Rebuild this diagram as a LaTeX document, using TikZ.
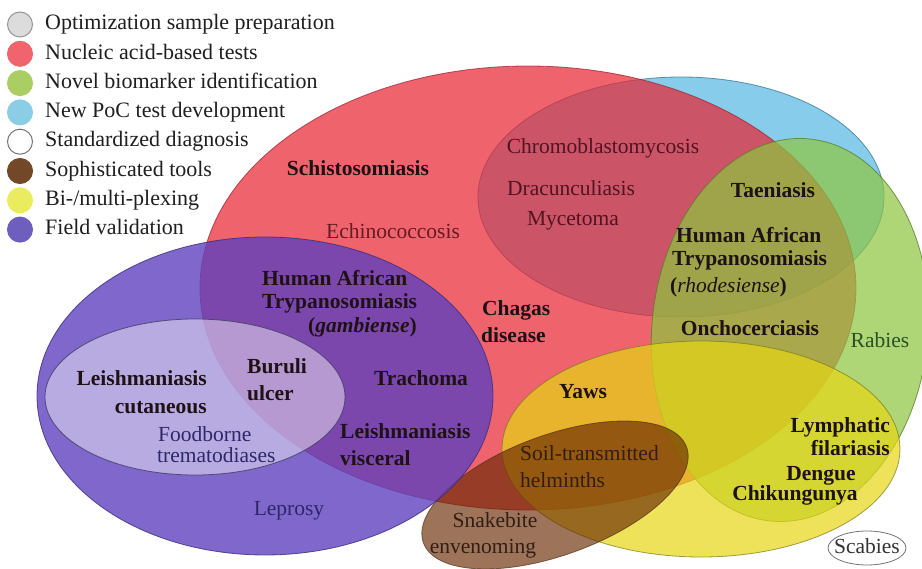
\documentclass[tikz,border=0pt]{standalone}
\usepackage{fontspec}
\setmainfont{Liberation Serif}
\definecolor{blueC}{RGB}{135,205,235}
\definecolor{blueE}{RGB}{60,120,150}
\definecolor{redC}{RGB}{233,34,48}
\definecolor{redE}{RGB}{150,30,45}
\definecolor{greenC}{RGB}{141,198,62}
\definecolor{greenE}{RGB}{90,125,45}
\definecolor{yellowC}{RGB}{230,215,20}
\definecolor{yellowE}{RGB}{120,120,30}
\definecolor{brownC}{RGB}{105,40,0}
\definecolor{brownE}{RGB}{80,50,25}
\definecolor{purpleC}{RGB}{95,65,190}
\definecolor{purpleE}{RGB}{55,45,120}
\definecolor{stdE}{RGB}{60,60,95}
\definecolor{greyC}{RGB}{220,220,220}
\definecolor{greyE}{RGB}{150,150,150}
\definecolor{inkC}{RGB}{30,18,22}
\definecolor{inkRed}{RGB}{105,25,35}
\definecolor{inkMauve}{RGB}{80,20,35}
\definecolor{inkBlue}{RGB}{45,40,105}
\definecolor{inkGreen}{RGB}{45,80,35}
\definecolor{inkBrown}{RGB}{50,30,20}
% legend swatch colours
\definecolor{swRed}{RGB}{240,100,110}
\definecolor{swGreen}{RGB}{170,205,100}
\definecolor{swBlue}{RGB}{140,205,230}
\definecolor{swBrown}{RGB}{115,72,40}
\definecolor{swYellow}{RGB}{235,235,95}
\definecolor{swPurple}{RGB}{110,95,190}
\begin{document}
\begin{tikzpicture}[x=1pt,y=-1pt,
  setblue/.style={fill=blueC, draw=blueE, draw opacity=0.8, line width=0.8pt},
  setred/.style={fill=redC, fill opacity=0.7, draw=redE, draw opacity=0.7, line width=0.8pt},
  setgreen/.style={fill=greenC, fill opacity=0.7, draw=greenE, draw opacity=0.8, line width=0.8pt},
  setyellow/.style={fill=yellowC, fill opacity=0.7, draw=yellowE, draw opacity=0.7, line width=0.8pt},
  setbrown/.style={fill=brownC, fill opacity=0.65, draw=brownE, draw opacity=0.7, line width=0.8pt},
  setpurple/.style={fill=purpleC, fill opacity=0.8, draw=purpleE, draw opacity=0.8, line width=0.8pt},
  setstd/.style={fill=white, fill opacity=0.45, draw=stdE, draw opacity=0.8, line width=0.8pt},
  lab/.style={inner sep=0pt, text height=15pt, text depth=4.5pt, text=inkC,
              font=\fontsize{21.5}{24}\selectfont},
  blab/.style={lab, font=\fontsize{21.5}{24}\selectfont\bfseries},
  leg/.style={inner sep=0pt, anchor=west, text height=15pt, text depth=4.5pt, text=black!88,
              font=\fontsize{22}{24}\selectfont}
]
% page and background
\fill[white] (0,0) rectangle (922,569);
\useasboundingbox (0,0) rectangle (922,569);

% ---- sets, drawn back to front ----
% New PoC test development
\path[setblue] (681,197) ellipse [x radius=203pt, y radius=120pt];
% Nucleic acid-based tests
\path[setred] (528,288) ellipse [x radius=328pt, y radius=222pt];
% Novel biomarker identification
\path[setgreen, rotate around={-6:(790,330)}] (790,330) ellipse [x radius=138pt, y radius=192pt];
% Bi-/multi-plexing
\path[setyellow] (701,449) ellipse [x radius=199pt, y radius=108pt];
% Sophisticated tools
\path[setbrown, rotate around={20:(555,495)}] (555,495) ellipse [x radius=140pt, y radius=60pt];
% Field validation
\path[setpurple] (265,396) ellipse [x radius=228pt, y radius=159pt];
% Standardized diagnosis
\path[setstd] (195,397) ellipse [x radius=150pt, y radius=78pt];
% Scabies (standardized diagnosis only)
\path[fill=white, draw=black!55, line width=0.8pt] (867,548) ellipse [x radius=39pt, y radius=17pt];

% ---- legend ----
\foreach \i/\fc/\dc/\txt in {
  0/greyC/greyE/{Optimization sample preparation},
  1/swRed/swRed/{Nucleic acid-based tests},
  2/swGreen/swGreen/{Novel biomarker identification},
  3/swBlue/swBlue/{New PoC test development},
  4/white/black!55/{Standardized diagnosis},
  5/swBrown/swBrown/{Sophisticated tools},
  6/swYellow/swYellow/{Bi-/multi-plexing},
  7/swPurple/swPurple/{Field validation}}{
  \path[fill=\fc, draw=\dc, line width=1pt] (20,{24.5+29.3*\i}) circle [radius=12.5pt];
  \node[leg] (leg\i) at (45,{24.5+29.3*\i}) {\txt};
}

% ---- labels ----
\node[blab] (schisto) at (358,170) {Schistosomiasis};
\node[lab, text=inkRed] (echino) at (393,233) {Echinococcosis};
\node[lab, text=inkMauve] (chromo) at (603,148) {Chromoblastomycosis};
\node[lab, text=inkMauve] (dracu) at (571,190) {Dracunculiasis};
\node[lab, text=inkMauve] (myce) at (573,220) {Mycetoma};

\node[blab, anchor=west] (hatg1) at (262,280) {Human African};
\node[blab, anchor=west] (hatg2) at (262,303) {Trypanosomiasis};
\node[blab, anchor=east] (hatg3) at (417,327) {(\textit{gambiense})};

\node[blab, anchor=west] (chagas1) at (482,310) {Chagas};
\node[blab, anchor=west] (chagas2) at (481,337) {disease};

\node[blab] (taenia) at (773,192) {Taeniasis};
\node[blab, anchor=west] (hatr1) at (676,237) {Human African};
\node[blab, anchor=west] (hatr2) at (672,260) {Trypanosomiasis};
\node[blab, anchor=west] (hatr3) at (670,287) {(\textnormal{\itshape rhodesiense})};
\node[blab] (oncho) at (750,330) {Onchocerciasis};
\node[lab, text=inkGreen] (rabies) at (880,342) {Rabies};

\node[blab] (yaws) at (583,393) {Yaws};
\node[lab, text=inkBrown, anchor=west] (soil1) at (520,455) {Soil-transmitted};
\node[lab, text=inkBrown, anchor=west] (soil2) at (520,482) {helminths};
\node[lab, text=inkBrown] (snake1) at (495,522) {Snakebite};
\node[lab, text=inkBrown] (snake2) at (483,548) {envenoming};

\node[blab, anchor=east] (lymph1) at (890,427) {Lymphatic};
\node[blab, anchor=east] (lymph2) at (890,450) {filariasis};
\node[blab] (dengue) at (821,475) {Dengue};
\node[blab] (chik) at (795,495) {Chikungunya};
\node[lab, text=black!80] (scabies) at (867,548) {Scabies};

\node[blab, anchor=east] (leishc1) at (207,380) {Leishmaniasis};
\node[blab, anchor=east] (leishc2) at (207,408) {cutaneous};
\node[blab, anchor=west] (buruli1) at (247,368) {Buruli};
\node[blab, anchor=west] (buruli2) at (247,395) {ulcer};
\node[blab] (trach) at (421,380) {Trachoma};
\node[lab, text=inkBlue, anchor=west] (food1) at (158,436.5) {Foodborne};
\node[lab, text=inkBlue, anchor=west] (food2) at (157,457) {trematodiases};
\node[blab, anchor=west] (leishv1) at (340,433) {Leishmaniasis};
\node[blab, anchor=west] (leishv2) at (340,460) {visceral};
\node[lab, text=inkBlue] (leprosy) at (289,510) {Leprosy};
\end{tikzpicture}
\end{document}
